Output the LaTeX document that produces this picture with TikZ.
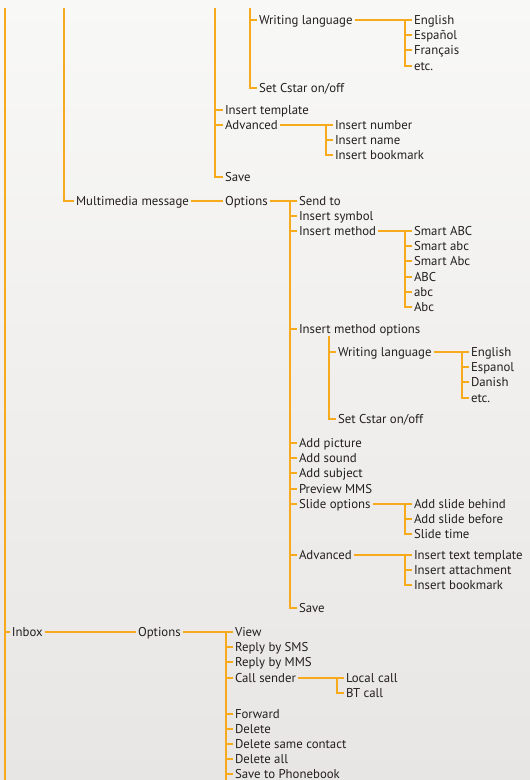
\documentclass[tikz,border=0pt]{standalone}
\usepackage{fontspec}
\setmainfont{PT Sans}
\definecolor{menuline}{HTML}{F6AA1C}
\definecolor{menutext}{HTML}{231F20}
\tikzset{
  item/.style={anchor=west,inner sep=0pt,outer sep=2pt,xshift=-2pt,
    text height=9pt,text depth=1pt,text=menutext},
  branch/.style={draw=menuline,line width=1.2pt},
}
\begin{document}
\begin{tikzpicture}[x=1pt,y=-1pt,font=\fontsize{12.8}{14}\selectfont]
  \def\dy{15.2}
  \shade[top color={rgb,255:red,248;green,248;blue,247},
    bottom color={rgb,255:red,232;green,230;blue,228}] (0,0) rectangle (530,780);
  \useasboundingbox (0,0) rectangle (530,780);
  %===========================================
  % text entry options (continued from above)
  \node[item] (wla) at (259,20) {Writing language};
  \foreach \t [count=\i] in {English,Español,Français,etc.}
    \node[item] (wla\i) at (414,{round(20+\dy*(\i-1))}) {\t};
  \node[item] (csa) at (259,88) {Set Cstar on/off};
  \node[item] (tpl) at (225,110) {Insert template};
  \node[item] (adva) at (225,125) {Advanced};
  \foreach \t [count=\i] in {Insert number,Insert name,Insert bookmark}
    \node[item] (adva\i) at (335,{round(125+\dy*(\i-1))}) {\t};
  \node[item] (savea) at (225,177) {Save};
  %===========================================
  % multimedia message
  \node[item] (mms) at (76,201) {Multimedia message};
  \node[item] (mmsopt) at (225,201) {Options};
  \foreach \t [count=\i] in {Send to,Insert symbol,Insert method}
    \node[item] (mo\i) at (299,{round(201+\dy*(\i-1))}) {\t};
  \foreach \t [count=\i] in {Smart ABC,Smart abc,Smart Abc,ABC,abc,Abc}
    \node[item] (im\i) at (414,{round(231+\dy*(\i-1))}) {\t};
  \node[item] (imo) at (299,329) {Insert method options};
  \node[item] (wlb) at (338,352) {Writing language};
  \foreach \t [count=\i] in {English,Espanol,Danish,etc.}
    \node[item] (wlb\i) at (471,{round(352+\dy*(\i-1))}) {\t};
  \node[item] (csb) at (338,419) {Set Cstar on/off};
  \foreach \t [count=\i] in {Add picture,Add sound,Add subject,Preview MMS,Slide options}
    \node[item] (ad\i) at (299,{round(443+\dy*(\i-1))}) {\t};
  \foreach \t [count=\i] in {Add slide behind,Add slide before,Slide time}
    \node[item] (so\i) at (414,{round(504+\dy*(\i-1))}) {\t};
  \node[item] (advb) at (299,555) {Advanced};
  \foreach \t [count=\i] in {Insert text template,Insert attachment,Insert bookmark}
    \node[item] (at\i) at (414,{round(555+\dy*(\i-1))}) {\t};
  \node[item] (saveb) at (299,608) {Save};
  %===========================================
  % inbox
  \node[item] (inbox) at (12,632) {Inbox};
  \node[item] (inopt) at (138,632) {Options};
  \foreach \t [count=\i] in {View,Reply by SMS,Reply by MMS,Call sender}
    \node[item] (io\i) at (235,{round(632+\dy*(\i-1))}) {\t};
  \foreach \t [count=\i] in {Local call,BT call}
    \node[item] (cs\i) at (346,{round(678+\dy*(\i-1))}) {\t};
  \foreach \t [count=\i] in {Forward,Delete,Delete same contact,Delete all,Save to Phonebook}
    \node[item] (iof\i) at (235,{714+15*(\i-1)}) {\t};
  %===========================================
  % connectors
  \coordinate (bar0) at (5,8);   \coordinate (bar0end) at (5,780);
  \coordinate (bar1) at (64,8);
  \coordinate (bar2) at (215,8);
  \coordinate (bar3) at (250,8);
  \draw[branch] (bar0)--(bar0end);
  \draw[branch] (bar0)|-(inbox);
  \draw[branch] (bar1)|-(mms);
  \foreach \n in {tpl,adva,savea}\draw[branch] (bar2)|-(\n);
  \foreach \n in {wla,csa}\draw[branch] (bar3)|-(\n);
  % writing language / advanced (top)
  \draw[branch] (wla.east)--(wla.east -| wla1.west);
  \coordinate (wlabar) at ([xshift=-7pt]wla1.west);
  \foreach \i in {2,3,4}\draw[branch] (wlabar)|-(wla\i);
  \draw[branch] (adva.east)--(adva.east -| adva1.west);
  \coordinate (advabar) at ([xshift=-7pt]adva1.west);
  \foreach \i in {2,3}\draw[branch] (advabar)|-(adva\i);
  % multimedia message options
  \draw[branch] (mms.east)--(mms.east -| mmsopt.west);
  \draw[branch] (mmsopt.east)--(mmsopt.east -| mo1.west);
  \coordinate (mobar) at ([xshift=-7pt]mo1.west);
  \foreach \n in {mo2,mo3,imo,ad1,ad2,ad3,ad4,ad5,advb,saveb}\draw[branch] (mobar)|-(\n);
  \draw[branch] (mo3.east)--(mo3.east -| im1.west);
  \coordinate (imbar) at ([xshift=-7pt]im1.west);
  \foreach \i in {2,...,6}\draw[branch] (imbar)|-(im\i);
  \coordinate (imobar) at ([xshift=-7pt]wlb.west |- imo.south);
  \foreach \n in {wlb,csb}\draw[branch] (imobar)|-(\n);
  \draw[branch] (wlb.east)--(wlb.east -| wlb1.west);
  \coordinate (wlbbar) at ([xshift=-7pt]wlb1.west);
  \foreach \i in {2,3,4}\draw[branch] (wlbbar)|-(wlb\i);
  \draw[branch] (ad5.east)--(ad5.east -| so1.west);
  \coordinate (sobar) at ([xshift=-7pt]so1.west);
  \foreach \i in {2,3}\draw[branch] (sobar)|-(so\i);
  \draw[branch] (advb.east)--(advb.east -| at1.west);
  \coordinate (atbar) at ([xshift=-7pt]at1.west);
  \foreach \i in {2,3}\draw[branch] (atbar)|-(at\i);
  % inbox options
  \draw[branch] (inbox.east)--(inbox.east -| inopt.west);
  \draw[branch] (inopt.east)--(inopt.east -| io1.west);
  \coordinate (iobar) at ([xshift=-7pt]io1.west);
  \coordinate (iobarend) at (iobar |- bar0end);
  \draw[branch] (iobar)--(iobarend);
  \foreach \n in {io2,io3,io4,iof1,iof2,iof3,iof4,iof5}\draw[branch] (iobar)|-(\n);
  \draw[branch] (io4.east)--(io4.east -| cs1.west);
  \coordinate (csbar) at ([xshift=-7pt]cs1.west);
  \draw[branch] (csbar)|-(cs2);
\end{tikzpicture}
\end{document}
